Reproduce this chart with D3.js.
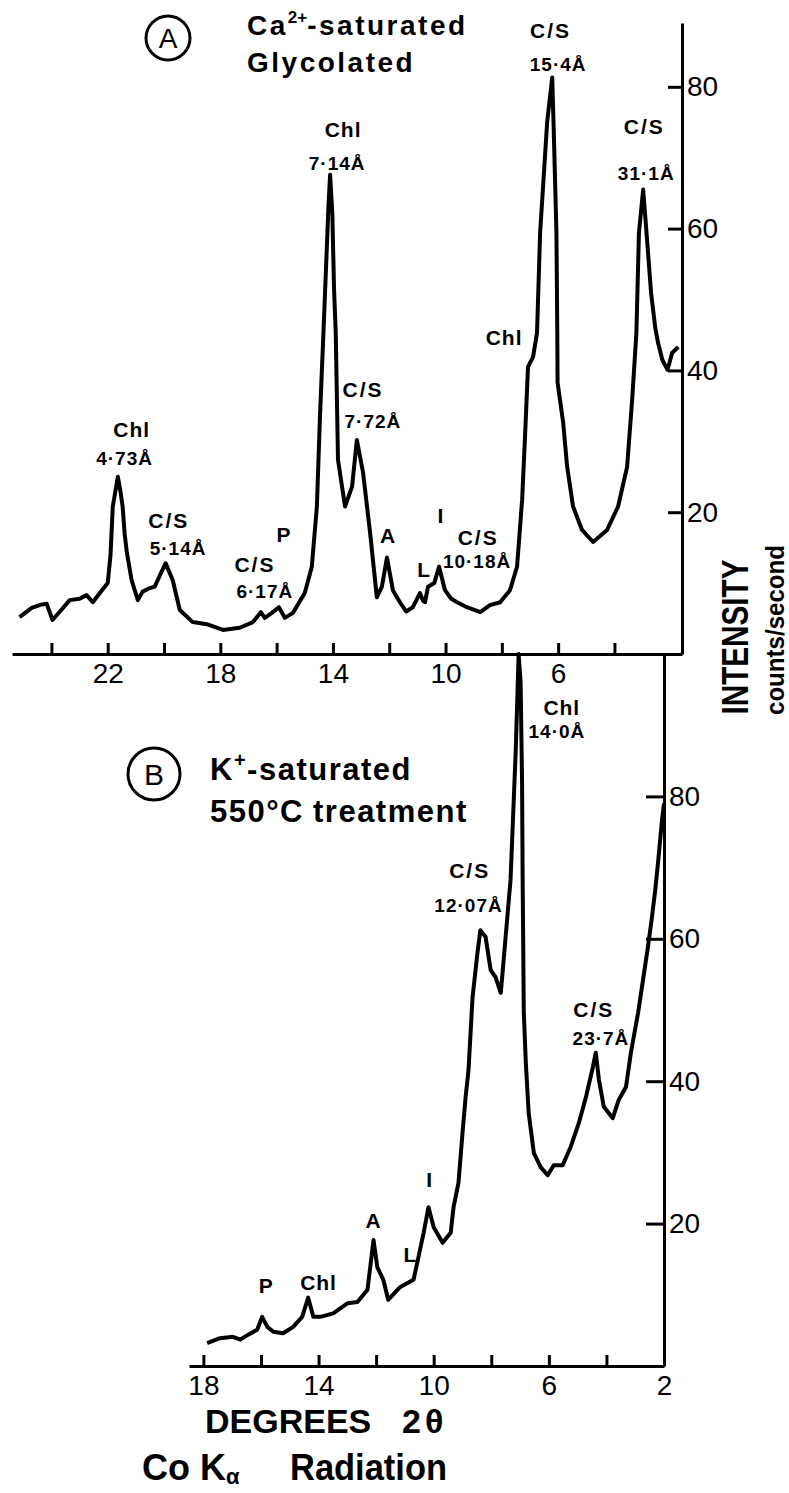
<!DOCTYPE html>
<html>
<head>
<meta charset="utf-8">
<script src="https://cdnjs.cloudflare.com/ajax/libs/d3/7.8.5/d3.min.js"></script>
<style>
  body { margin: 0; background: #fff; }
  svg { display: block; background: #fff; }
  .axis path, .axis line { stroke: #000; stroke-width: 3; }
  .axis text { font-family: "Liberation Sans", Arial, sans-serif; font-size: 28px; fill: #000; }
  .trace { fill: none; stroke: #000; stroke-width: 4; stroke-linejoin: round; }
  .lbl { font-family: "Liberation Sans", Arial, sans-serif; fill: #000; }
  .title { font-family: "Liberation Sans", Arial, sans-serif; font-weight: bold; fill: #000; }
</style>
</head>
<body>
<div id="chart"></div>
<script>
// Panel A trace (degrees 2theta, counts/second)
var traceA = [
  [25.13,5.2],[24.7,6.5],[24.42,6.9],[24.17,7.1],[23.96,4.8],[23.65,6.2],[23.35,7.6],[23.0,7.8],
  [22.75,8.3],[22.53,7.3],[22.28,8.6],[22.0,10.0],[21.9,14],[21.82,20.8],[21.64,25.0],[21.55,23],
  [21.47,20.8],[21.4,17],[21.32,14.3],[21.15,10.4],[20.93,7.6],[20.76,8.8],[20.5,9.3],[20.33,9.5],
  [20.1,11.5],[19.94,12.8],[19.69,10.4],[19.44,6.2],[18.98,4.5],[18.48,4.2],[17.91,3.4],[17.31,3.7],
  [16.84,4.5],[16.56,5.9],[16.42,5.1],[16.17,5.8],[15.92,6.6],[15.71,5.1],[15.42,5.8],[15.0,8.6],
  [14.75,12.3],[14.57,20.8],[14.46,33.5],[14.34,45],[14.24,55],[14.16,63],[14.1,67.6],[14.02,62],
  [13.96,51.4],[13.9,45.3],[13.82,27.4],[13.57,20.8],[13.32,23.6],[13.15,30.2],[12.93,25.6],
  [12.68,17.1],[12.44,8.0],[12.26,9.5],[12.08,13.6],[11.87,9.0],[11.62,7.3],[11.4,6.0],[11.16,6.6],
  [10.91,8.6],[10.8,7.5],[10.73,7.3],[10.62,9.5],[10.4,10],[10.23,12.3],[10.02,9.0],[9.8,7.8],
  [9.59,7.3],[9.24,6.6],[8.77,5.9],[8.42,6.9],[8.06,7.3],[7.71,9.0],[7.46,12.3],[7.28,21.7],
  [7.17,31.2],[7.07,40.5],[6.89,41.9],[6.75,45.3],[6.64,59.4],[6.39,75],[6.21,81.3],[6.16,74.4],
  [6.06,59.4],[6.03,45.3],[6.02,38.3],[5.82,32.6],[5.68,26.4],[5.47,20.8],[5.15,17.5],[4.76,15.8],
  [4.26,17.5],[3.87,20.8],[3.55,26.4],[3.37,35.9],[3.22,45.3],[3.13,59.4],[2.98,65.5],[2.86,59.4],
  [2.7,51],[2.55,46],[2.45,43.9],[2.3,41.5],[2.12,40.1],[2.05,41],[1.95,42.5],[1.73,43.3]
];

// Panel B trace
var traceB = [
  [17.87,3.2],[17.42,3.9],[16.97,4.1],[16.72,3.7],[16.44,4.4],[16.13,5.1],[15.96,6.9],[15.78,5.5],
  [15.57,4.8],[15.23,4.6],[14.88,5.5],[14.57,6.9],[14.36,9.6],[14.18,6.9],[13.94,6.9],[13.49,7.4],
  [13.0,8.8],[12.65,9.0],[12.3,10.7],[12.09,17.7],[11.96,13.9],[11.75,12.1],[11.58,9.3],[11.26,10.7],
  [11.16,11.1],[10.7,12.1],[10.53,15.3],[10.35,18.7],[10.18,22.3],[10.0,19.5],[9.69,17.3],[9.41,18.7],
  [9.31,22.3],[9.14,25.7],[9.0,32.7],[8.89,37.8],[8.79,41.6],[8.65,51.8],[8.48,58],[8.38,61.2],
  [8.2,60.3],[8.02,55.6],[7.85,54.6],[7.67,52.4],[7.6,55.6],[7.43,63.6],[7.33,68.3],[7.15,86.5],
  [7.08,95.9],[7.05,100],[6.98,95.9],[6.93,81.9],[6.91,68.3],[6.89,58.8],[6.87,49.6],[6.8,42.6],
  [6.7,35.5],[6.52,29.9],[6.28,27.9],[6.04,26.8],[5.83,28.2],[5.52,28.2],[5.24,30.8],[4.96,34.1],
  [4.71,37.8],[4.47,42],[4.37,44],[4.26,40.2],[4.09,36.4],[3.78,34.8],[3.57,37.4],[3.32,39.2],
  [3.15,44],[2.9,49.6],[2.73,54.2],[2.56,58.8],[2.42,63],[2.3,67],[2.2,71],[2.12,74.5],[2.06,77],[2.0,79]
];

// axis ticks
var xTicksA = [24, 22, 20, 18, 16, 14, 12, 10, 8, 6, 4];
var xLabelsA = [22, 18, 14, 10, 6];
var xTicksB = [18, 16, 14, 12, 10, 8, 6, 4, 2];
var xLabelsB = [18, 14, 10, 6, 2];
var yTicks = [20, 40, 60, 80];

// peak labels: [text, degrees, intensity at baseline]
var peaksA = [
  ["Chl", 13.64, 72.9], ["7·14Å", 13.85, 68.3],
  ["C/S", 6.27, 86.9], ["15·4Å", 6.0, 82.2],
  ["C/S", 2.94, 73.3], ["31·1Å", 2.87, 66.9],
  ["Chl", 7.92, 43.6],
  ["Chl", 21.15, 30.6], ["4·73Å", 21.4, 26.7],
  ["C/S", 19.83, 17.8], ["5·14Å", 19.5, 14.0],
  ["C/S", 16.77, 11.6], ["6·17Å", 16.42, 7.9],
  ["P", 15.74, 15.8],
  ["C/S", 12.93, 36.3], ["7·72Å", 12.58, 31.9],
  ["A", 12.04, 15.7],
  ["L", 10.76, 10.9],
  ["I", 10.16, 18.5],
  ["C/S", 8.84, 15.4], ["10·18Å", 8.88, 12.1]
];
var peaksB = [
  ["Chl", 5.55, 91.4], ["14·0Å", 5.72, 88.2],
  ["C/S", 8.75, 68.5], ["12·07Å", 8.79, 63.8],
  ["C/S", 4.44, 49.0], ["23·7Å", 4.19, 45.1],
  ["I", 10.14, 25.1],
  ["L", 10.81, 14.6],
  ["A", 12.09, 19.4],
  ["Chl", 14.0, 10.7],
  ["P", 15.82, 10.3]
];

var svgWidth = 789;
var svgHeight = 1493;

var svg = d3.select("#chart")
  .append("svg")
  .attr("width", svgWidth)
  .attr("height", svgHeight);

// scales (x runs from high to low angle)
var xA = d3.scaleLinear().domain([25.4, 1.6]).range([12, 682]);
var yA = d3.scaleLinear().domain([0, 89]).range([654, 23]);
var xB = d3.scaleLinear().domain([18.5, 2]).range([189, 664]);
var yB = d3.scaleLinear().domain([0, 100]).range([1366, 654]);

function drawPanel(x, y, trace, ticks, tickLabels, ySize, peaks) {
  var g = svg.append("g");

  g.append("g")
    .attr("class", "axis")
    .attr("transform", `translate(0, ${y(0)})`)
    .call(d3.axisBottom(x)
      .tickValues(ticks)
      .tickSizeInner(-11)
      .tickSizeOuter(0)
      .tickPadding(9)
      .tickFormat(d => tickLabels.indexOf(d) > -1 ? d : ""));

  g.append("g")
    .attr("class", "axis")
    .attr("transform", `translate(${x.range()[1]}, 0)`)
    .call(d3.axisRight(y)
      .tickValues(yTicks)
      .tickSizeInner(-ySize)
      .tickSizeOuter(0)
      .tickPadding(5));

  var line = d3.line()
    .x(d => x(d[0]))
    .y(d => y(d[1]));

  g.append("path")
    .datum(trace)
    .attr("class", "trace")
    .attr("d", line);

  // labels over the peaks
  g.append("g")
    .selectAll("text")
    .data(peaks)
    .enter()
    .append("text")
    .attr("class", "lbl")
    .attr("text-anchor", "middle")
    .attr("x", d => x(d[1]))
    .attr("y", d => y(d[2]))
    .attr("font-size", d => /\d/.test(d[0]) ? 19 : 21)
    .attr("font-weight", "bold")
    .attr("font-family", d => d[0] == "I" ? "'Liberation Serif', serif" : null)
    .attr("letter-spacing", d => d[0] == "C/S" ? 2 : 1)
    .text(d => d[0]);
}

drawPanel(xA, yA, traceA, xTicksA, xLabelsA, 14, peaksA);
drawPanel(xB, yB, traceB, xTicksB, xLabelsB, 18, peaksB);

// circled panel letters
svg.append("circle").attr("cx", 168).attr("cy", 38).attr("r", 22)
  .attr("fill", "none").attr("stroke", "#000").attr("stroke-width", 3);
svg.append("text").attr("class", "lbl").attr("x", 168).attr("y", 48)
  .attr("text-anchor", "middle").attr("font-size", 28).text("A");
svg.append("circle").attr("cx", 154).attr("cy", 774).attr("r", 26)
  .attr("fill", "none").attr("stroke", "#000").attr("stroke-width", 3);
svg.append("text").attr("class", "lbl").attr("x", 154).attr("y", 785)
  .attr("text-anchor", "middle").attr("font-size", 30).text("B");

// panel titles
var tA = svg.append("text").attr("class", "title").attr("x", 247).attr("y", 35)
  .attr("font-size", 28).attr("letter-spacing", 2.5);
tA.append("tspan").text("Ca");
tA.append("tspan").attr("dy", -12).attr("font-size", 17).attr("letter-spacing", 0).text("2+");
tA.append("tspan").attr("dy", 12).text("-saturated");
svg.append("text").attr("class", "title").attr("x", 247).attr("y", 72)
  .attr("font-size", 28).attr("letter-spacing", 2.5).text("Glycolated");

var tB = svg.append("text").attr("class", "title").attr("x", 210).attr("y", 780)
  .attr("font-size", 31).attr("letter-spacing", 1.5);
tB.append("tspan").text("K");
tB.append("tspan").attr("dy", -13).attr("font-size", 20).text("+");
tB.append("tspan").attr("dy", 13).text("-saturated");
svg.append("text").attr("class", "title").attr("x", 210).attr("y", 822)
  .attr("font-size", 31).attr("letter-spacing", 1.5).text("550°C");
svg.append("text").attr("class", "title").attr("x", 313).attr("y", 822)
  .attr("font-size", 31).attr("letter-spacing", 1.5).text("treatment");

// x axis title
svg.append("text").attr("class", "title").attr("x", 205).attr("y", 1433)
  .attr("font-size", 34).text("DEGREES");
svg.append("text").attr("class", "title").attr("x", 402).attr("y", 1433)
  .attr("font-size", 34).attr("letter-spacing", 4).text("2θ");
var co = svg.append("text").attr("class", "title").attr("x", 142).attr("y", 1480)
  .attr("font-size", 36);
co.append("tspan").text("Co K");
co.append("tspan").attr("dy", 4).attr("font-size", 22).text("α");
svg.append("text").attr("class", "title").attr("x", 290).attr("y", 1480)
  .attr("font-size", 36).attr("textLength", 157).attr("lengthAdjust", "spacingAndGlyphs")
  .text("Radiation");

// y axis title
svg.append("text").attr("class", "title")
  .attr("transform", "translate(748, 637) rotate(-90)")
  .attr("text-anchor", "middle")
  .attr("font-size", 36)
  .attr("textLength", 155).attr("lengthAdjust", "spacingAndGlyphs")
  .text("INTENSITY");
svg.append("text").attr("class", "title")
  .attr("transform", "translate(784, 630) rotate(-90)")
  .attr("text-anchor", "middle")
  .attr("font-size", 25)
  .attr("textLength", 170).attr("lengthAdjust", "spacingAndGlyphs")
  .text("counts/second");
</script>
</body>
</html>
